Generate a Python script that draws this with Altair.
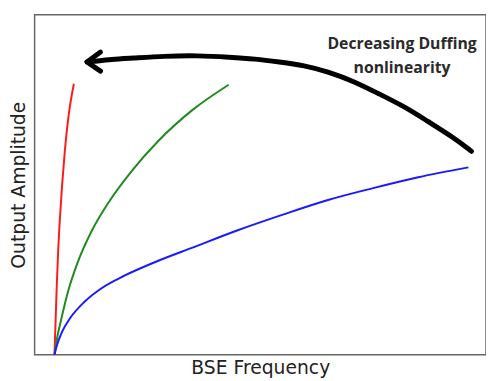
import altair as alt
import pandas as pd

# Curves (arbitrary units)
red_x = [4.4, 4.65, 4.9, 5.2, 5.6, 6.1, 6.7, 7.5, 8.7]
red_y = [0.0, 10.0, 20.0, 30.0, 40.0, 50.0, 60.0, 70.0, 79.7]

green_x = [4.4, 5.0, 6.0, 7.5, 9.5, 12.5, 16.5, 21.5, 27.5, 35.0, 43.0]
green_y = [0.0, 5.0, 11.0, 19.0, 27.0, 36.0, 45.0, 54.0, 63.0, 72.0, 79.4]

blue_x = [4.4, 5.0, 6.0, 8.0, 11.0, 15.0, 20.0, 27.0, 35.0, 45.0, 55.0, 65.0, 75.0, 85.0, 96.1]
blue_y = [0.0, 3.0, 6.5, 11.0, 15.5, 19.7, 23.3, 27.4, 31.5, 36.6, 41.2, 45.5, 49.0, 52.2, 55.1]

# Arrow shaft (right to left) and head
arrow_x = [96.8, 92.8, 87.0, 81.9, 76.0, 70.9, 65.1, 59.7, 54.2, 48.8, 43.3, 36.0, 28.8, 21.5, 17.1, 12.7, 11.6]
arrow_y = [59.8, 63.9, 68.7, 73.0, 76.9, 80.3, 83.2, 85.1, 86.1, 87.0, 87.5, 88.0, 87.8, 87.2, 86.9, 86.2, 86.1]
head_x = [14.6, 11.6, 14.6]
head_y = [89.0, 86.1, 83.4]

labels = ["Decreasing Duffing", "nonlinearity"]
label_x = [81.4, 81.4]
label_y = [90.0, 82.8]

rows = []
for name, xs, ys in [("red", red_x, red_y), ("green", green_x, green_y), ("blue", blue_x, blue_y)]:
    for i, (a, b) in enumerate(zip(xs, ys)):
        rows.append({"series": name, "x": a, "y": b, "o": i})
curves = pd.DataFrame(rows)

shaft = pd.DataFrame({"x": arrow_x, "y": arrow_y, "o": list(range(len(arrow_x)))})
head = pd.DataFrame({"x": head_x, "y": head_y, "o": list(range(len(head_x)))})

text_df = pd.DataFrame({"t": labels, "x": label_x, "y": label_y})

xs = alt.Scale(domain=[0, 100], nice=False, zero=False)
ys = alt.Scale(domain=[0, 100], nice=False, zero=False)
xax = alt.Axis(labels=False, ticks=False, domain=False, grid=False, title="BSE Frequency",
               titleFont="DejaVu Sans", titleFontSize=19, titleFontWeight="normal",
               titleColor="#222222", titlePadding=4)
yax = alt.Axis(labels=False, ticks=False, domain=False, grid=False, title="Output Amplitude",
               titleFont="DejaVu Sans", titleFontSize=19, titleFontWeight="normal",
               titleColor="#222222", titlePadding=6)

lines = alt.Chart(curves).mark_line(strokeWidth=2, interpolate="monotone").encode(
    x=alt.X("x:Q", scale=xs, axis=xax),
    y=alt.Y("y:Q", scale=ys, axis=yax),
    color=alt.Color("series:N", scale=alt.Scale(domain=["red", "green", "blue"],
                                                range=["#ff1a1a", "#1f8a1f", "#1a1aff"]), legend=None),
    order="o:Q",
)

arr = alt.Chart(shaft).mark_line(strokeWidth=5, color="black", strokeCap="round",
                                 strokeJoin="round", interpolate="basis").encode(
    x=alt.X("x:Q", scale=xs),
    y=alt.Y("y:Q", scale=ys),
    order="o:Q",
)

arr_head = alt.Chart(head).mark_line(strokeWidth=5, color="black", strokeCap="round",
                                     strokeJoin="round").encode(
    x=alt.X("x:Q", scale=xs),
    y=alt.Y("y:Q", scale=ys),
    order="o:Q",
)

txt = alt.Chart(text_df).mark_text(font="Open Sans", fontWeight="bold", fontSize=16,
                                   color="#2a2a2a", align="center", baseline="alphabetic").encode(
    x=alt.X("x:Q", scale=xs),
    y=alt.Y("y:Q", scale=ys),
    text="t:N",
)

chart = alt.layer(lines, arr, arr_head, txt).properties(
    width=458, height=345,
    autosize=alt.AutoSizeParams(type="none"),
    padding={"left": 27, "top": 4, "right": 0, "bottom": 30},
).configure_view(stroke="#666666", strokeWidth=1.5)

chart.save("out.html", embed_options={"renderer": "svg", "actions": False})
